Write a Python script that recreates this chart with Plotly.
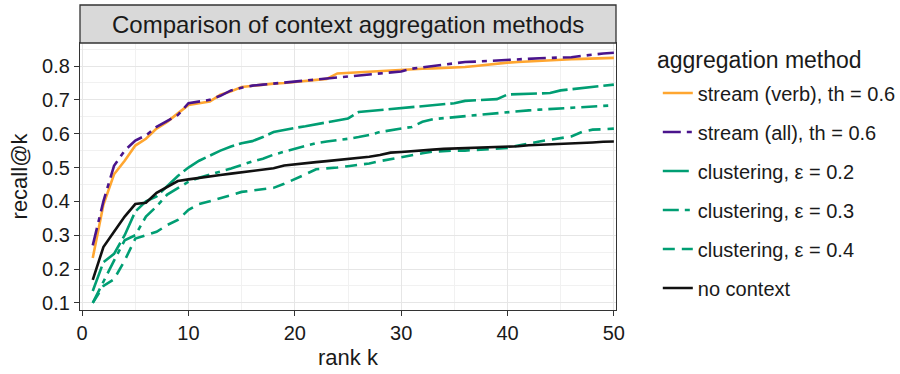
import plotly.graph_objects as go

# rank cut-offs
rank_k = list(range(1, 51))

# recall@k per aggregation method
stream_verb = [0.233, 0.39, 0.48, 0.52, 0.565, 0.585, 0.615, 0.635, 0.66, 0.685,
               0.69, 0.695, 0.715, 0.725, 0.738, 0.742, 0.745, 0.748, 0.75, 0.753,
               0.756, 0.758, 0.762, 0.778, 0.78, 0.782, 0.784, 0.786, 0.788, 0.79,
               0.791, 0.792, 0.793, 0.794, 0.795, 0.797, 0.8, 0.804, 0.808, 0.81,
               0.812, 0.814, 0.816, 0.818, 0.819, 0.82, 0.821, 0.822, 0.823, 0.824]
stream_all = [0.27, 0.40, 0.505, 0.55, 0.58, 0.595, 0.62, 0.638, 0.655, 0.69,
              0.695, 0.70, 0.712, 0.728, 0.736, 0.742, 0.745, 0.748, 0.751, 0.754,
              0.757, 0.76, 0.763, 0.765, 0.768, 0.771, 0.774, 0.777, 0.78, 0.784,
              0.792, 0.796, 0.80, 0.804, 0.808, 0.812, 0.813, 0.815, 0.817, 0.818,
              0.82, 0.822, 0.823, 0.824, 0.825, 0.826, 0.83, 0.834, 0.837, 0.839]
clust_02 = [0.135, 0.22, 0.245, 0.30, 0.37, 0.40, 0.415, 0.445, 0.475, 0.50,
            0.52, 0.535, 0.55, 0.562, 0.572, 0.578, 0.59, 0.605, 0.612, 0.617,
            0.622, 0.628, 0.635, 0.64, 0.645, 0.664, 0.667, 0.67, 0.672, 0.675,
            0.677, 0.68, 0.683, 0.686, 0.69, 0.697, 0.699, 0.70, 0.702, 0.716,
            0.717, 0.718, 0.719, 0.72, 0.728, 0.731, 0.734, 0.737, 0.741, 0.745]
clust_03 = [0.10, 0.165, 0.225, 0.285, 0.30, 0.355, 0.385, 0.42, 0.44, 0.458,
            0.47, 0.478, 0.488, 0.497, 0.508, 0.518, 0.526, 0.538, 0.547, 0.555,
            0.562, 0.572, 0.577, 0.58, 0.585, 0.59, 0.596, 0.605, 0.61, 0.614,
            0.62, 0.635, 0.643, 0.646, 0.649, 0.652, 0.655, 0.658, 0.661, 0.665,
            0.667, 0.669, 0.671, 0.673, 0.675, 0.677, 0.679, 0.681, 0.683, 0.684]
clust_04 = [0.10, 0.15, 0.17, 0.225, 0.29, 0.30, 0.31, 0.33, 0.345, 0.375,
            0.392, 0.40, 0.41, 0.42, 0.428, 0.432, 0.436, 0.44, 0.452, 0.465,
            0.48, 0.495, 0.497, 0.50, 0.504, 0.508, 0.512, 0.519, 0.525, 0.532,
            0.537, 0.542, 0.547, 0.549, 0.55, 0.55, 0.552, 0.554, 0.556, 0.558,
            0.565, 0.572, 0.577, 0.582, 0.587, 0.592, 0.605, 0.612, 0.613, 0.615]
no_context = [0.168, 0.265, 0.31, 0.355, 0.392, 0.396, 0.425, 0.442, 0.46, 0.465,
              0.47, 0.474, 0.478, 0.482, 0.486, 0.49, 0.494, 0.498, 0.506, 0.51,
              0.513, 0.516, 0.519, 0.522, 0.526, 0.529, 0.532, 0.537, 0.544, 0.546,
              0.549, 0.551, 0.553, 0.555, 0.556, 0.557, 0.558, 0.559, 0.56, 0.561,
              0.563, 0.566, 0.567, 0.568, 0.569, 0.57, 0.572, 0.574, 0.576, 0.577]

series_names = ["stream (verb), th = 0.6", "stream (all), th = 0.6",
                "clustering, ε = 0.2", "clustering, ε = 0.3",
                "clustering, ε = 0.4", "no context"]
series_values = [stream_verb, stream_all, clust_02, clust_03, clust_04, no_context]
series_colors = ["#FFA630", "#4A148C", "#009E73", "#009E73", "#009E73", "#111111"]
series_dashes = ["solid", "18px,6px,5px,6px", "26px,5px", "16px,6px,5px,6px",
                 "12px,7px", "solid"]

x_ticks = [0, 10, 20, 30, 40, 50]
y_ticks = [0.1, 0.2, 0.3, 0.4, 0.5, 0.6, 0.7, 0.8]
y_tick_text = ["0.1", "0.2", "0.3", "0.4", "0.5", "0.6", "0.7", "0.8"]

FONT = "Liberation Sans, Arial, sans-serif"
TXT = "#1a1a1a"

fig = go.Figure()
for i, (name, vals, col, dash) in enumerate(
        zip(series_names, series_values, series_colors, series_dashes)):
    fig.add_trace(go.Scatter(
        x=rank_k, y=vals, mode="lines", name=name,
        legendgroup=f"g{i}",
        line=dict(color=col, width=2.6, dash=dash),
    ))

plot_h = 374 - 43 - 64
strip_h = 38 / plot_h

fig.update_layout(
    width=900, height=374,
    margin=dict(l=80, r=284, t=43, b=64, autoexpand=False),
    paper_bgcolor="white", plot_bgcolor="white",
    font=dict(family=FONT, color=TXT),
    legend=dict(
        font=dict(size=20, color=TXT),
        x=1.078, xanchor="left", y=0.886, yanchor="top",
        tracegroupgap=10, bgcolor="rgba(0,0,0,0)", maxheight=1,
    ),
    shapes=[dict(type="rect", xref="paper", yref="paper",
                 x0=0, x1=1, y0=1, y1=1 + strip_h,
                 fillcolor="#D9D9D9", line=dict(color="#333333", width=1.3),
                 layer="above")],
    annotations=[
        dict(text="Comparison of context aggregation methods",
             xref="paper", yref="paper", x=0.5, y=1 + strip_h / 2,
             xanchor="center", yanchor="middle", showarrow=False,
             font=dict(size=24, color=TXT)),
        # legend heading
        dict(text="aggregation method", xref="paper", yref="paper",
             x=(655 - 80) / 536, y=(310 - 60) / plot_h,
             xanchor="left", yanchor="middle", showarrow=False,
             font=dict(size=23, color=TXT)),
    ],
)

fig.update_xaxes(
    range=[-0.2, 50.2], tickvals=x_ticks, ticks="outside", ticklen=5,
    tickcolor="#333333", tickwidth=1.2,
    tickfont=dict(size=20, color=TXT),
    showgrid=True, gridcolor="#E6E6E6", gridwidth=1.3,
    minor=dict(tickvals=[5, 15, 25, 35, 45], showgrid=True,
               gridcolor="#F1F1F1", gridwidth=0.8),
    showline=True, mirror=True, linecolor="#333333", linewidth=1.3,
    zeroline=False,
    title=dict(text="rank k", font=dict(size=22, color=TXT), standoff=6),
)
fig.update_yaxes(
    range=[0.079, 0.868], tickvals=y_ticks, ticktext=y_tick_text,
    ticks="outside", ticklen=5, tickcolor="#333333", tickwidth=1.2,
    tickfont=dict(size=20, color=TXT),
    showgrid=True, gridcolor="#E6E6E6", gridwidth=1.3,
    minor=dict(tickvals=[0.15, 0.25, 0.35, 0.45, 0.55, 0.65, 0.75, 0.85],
               showgrid=True, gridcolor="#F1F1F1", gridwidth=0.8),
    showline=True, mirror=True, linecolor="#333333", linewidth=1.3,
    zeroline=False,
    title=dict(text="recall@k", font=dict(size=22, color=TXT), standoff=8),
)

fig.write_html("out.html")
